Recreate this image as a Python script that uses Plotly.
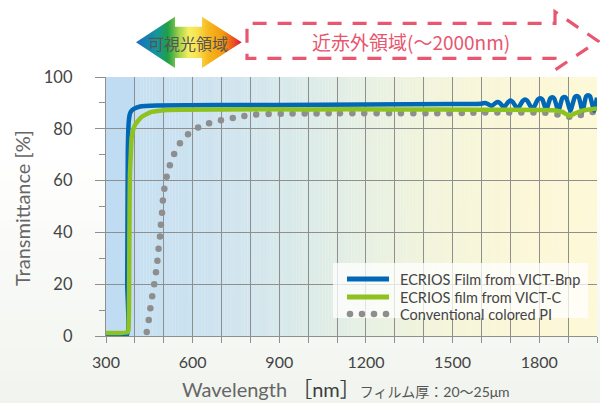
import base64
import plotly.graph_objects as go

# ---------------- data ----------------
series_names = ["ECRIOS Film from VICT-Bnp", "ECRIOS film from VICT-C", "Conventional colored PI"]

wl_bnp = [300, 372, 373.5, 374.5, 375.5, 377, 379, 382, 387, 395, 418, 475, 900, 1200, 1500,
          1600, 1612, 1622, 1635, 1648, 1656, 1664, 1678, 1692, 1700, 1708, 1725,
          1743, 1751, 1759, 1777, 1795, 1803, 1811, 1824, 1838, 1845, 1852, 1866,
          1880, 1887, 1894, 1908, 1923, 1930, 1937, 1950, 1962, 1969, 1976, 1990, 2000]
t_bnp = [0.3, 0.3, 20, 50, 72, 79, 83, 85.5, 86.8, 87.6, 88.6, 89.0, 89.2, 89.4, 89.6,
         89.7, 90.0, 89.6, 88.8, 89.9, 90.3, 89.9, 88.3, 90.3, 90.9, 90.4, 87.8,
         90.8, 91.3, 90.8, 87.5, 91.3, 91.8, 91.3, 87.2, 91.7, 92.2, 91.7, 87.0,
         91.8, 92.3, 91.8, 87.0, 92.2, 92.7, 92.2, 86.8, 92.5, 93.0, 92.5, 87.0, 92.0]

wl_c = [300, 376, 378, 379.5, 380.5, 381.5, 383, 386, 389, 400, 423, 458, 510, 700, 1000,
        1300, 1600, 1850, 1880, 1905, 1925, 1950, 2000]
t_c = [1.2, 1.5, 3.5, 10, 30, 50, 63, 70.5, 76.8, 81.4, 84.6, 86.5, 87.3, 87.5, 87.5,
       87.5, 87.4, 87.2, 86.5, 85.0, 86.0, 87.0, 87.8]

wl_pi = [441, 448, 453.5, 460, 467, 473, 478, 482, 487, 490, 494, 497, 502, 510, 521, 536,
         556, 584, 619, 657, 698, 739, 779, 820, 863, 905, 946, 988, 1029, 1071, 1110,
         1153, 1194, 1237, 1280, 1321, 1364, 1406, 1447, 1489, 1532, 1572, 1613, 1655,
         1696, 1738, 1780, 1821, 1863, 1904, 1944, 1985]
t_pi = [1.5, 6.2, 10.7, 15.3, 20.0, 24.6, 29.1, 33.7, 38.4, 43.0, 47.6, 52.3, 56.9, 61.5,
        65.9, 70.3, 74.4, 77.9, 80.5, 82.1, 83.3, 84.2, 84.9, 85.5, 85.7, 85.8, 85.9, 85.9,
        85.9, 86.0, 86.0, 86.0, 86.0, 86.0, 86.0, 86.0, 86.0, 86.0, 86.0, 86.0, 86.1, 86.2,
        86.3, 86.3, 86.3, 86.3, 86.3, 86.2, 85.5, 84.7, 85.3, 86.5]

x_tick_vals = [300, 600, 900, 1200, 1500, 1800]
y_tick_vals = [0, 20, 40, 60, 80, 100]

# ---------------- styling helpers ----------------
W, H = 600, 403
BLUE = "#0068b7"
GREEN = "#8dc21f"
GREY = "#8e8e8e"
PINK = "#e8566f"
GRID = "#8f8f8f"
LATIN = "Lato, Noto Sans CJK JP, sans-serif"
CJK = "Noto Sans CJK JP, sans-serif"


def px(x):
    return x / W


def py(y):
    return 1 - y / H


def hex2rgb(h):
    h = h.lstrip("#")
    return [int(h[i:i + 2], 16) for i in (0, 2, 4)]


def lerp_color(stops, v):
    for (a, ca), (b, cb) in zip(stops[:-1], stops[1:]):
        if a <= v <= b:
            t = (v - a) / (b - a) if b > a else 0
            c1, c2 = hex2rgb(ca), hex2rgb(cb)
            return "rgb(%d,%d,%d)" % tuple(round(c1[i] + (c2[i] - c1[i]) * t) for i in range(3))
    return stops[-1][1]


fig = go.Figure()

fig.add_trace(go.Scatter(x=wl_pi, y=t_pi, mode="markers", name=series_names[2],
                         marker=dict(color=GREY, size=6.5), hoverinfo="skip"))
fig.add_trace(go.Scatter(x=wl_bnp, y=t_bnp, mode="lines", name=series_names[0],
                         line=dict(color=BLUE, width=4.5, shape="spline", smoothing=0.5)))
fig.add_trace(go.Scatter(x=wl_c, y=t_c, mode="lines", name=series_names[1],
                         line=dict(color=GREEN, width=4.5, shape="spline", smoothing=0.5)))

shapes = []
# page background: white fading to pale grey-green at the bottom
page_stops = [(0, "#ffffff"), (150, "#ffffff"), (403, "#f1f4ee")]
for y0 in range(0, H, 10):
    shapes.append(dict(type="rect", xref="paper", yref="paper", x0=0, x1=1,
                       y0=py(y0 + 10), y1=py(y0), fillcolor=lerp_color(page_stops, y0 + 5),
                       line=dict(width=0), layer="below"))

# plot-area background gradient (blue -> yellow)
bg_stops = [(400, "#c6e0f2"), (600, "#cbe2f0"), (800, "#d3e6ee"), (1000, "#dcebe8"),
            (1200, "#e7f0e2"), (1400, "#f1f4dc"), (1600, "#f8f6d9"), (1800, "#fcf7d7"),
            (2000, "#fdf8d6")]
shapes.append(dict(type="rect", xref="x", yref="y domain", x0=300, x1=400, y0=0, y1=1,
                   fillcolor="#c0dcf2", line=dict(width=0), layer="below"))
for x0 in range(400, 2000, 10):
    shapes.append(dict(type="rect", xref="x", yref="y domain", x0=x0, x1=x0 + 10.5, y0=0, y1=1,
                       fillcolor=lerp_color(bg_stops, x0 + 5), line=dict(width=0), layer="below"))

# pink dashed arrow box (near infrared)
pts = [(555, 11.7), (555, 23.3), (247, 23.3), (247, 58.3), (555, 58.3), (555, 70), (598, 41)]
path = "M " + " L ".join("%.5f,%.5f" % (px(x), py(y)) for x, y in pts) + " Z"
shapes.append(dict(type="path", xref="paper", yref="paper", path=path,
                   line=dict(color=PINK, width=3.2, dash="14px,11px"), layer="above"))

# manual legend (box, symbols)
shapes.append(dict(type="rect", xref="paper", yref="paper", x0=px(333), x1=px(588),
                   y0=py(318), y1=py(263), fillcolor="rgba(255,255,255,0.75)",
                   line=dict(width=0), layer="above"))
legend_rows = [279, 297, 314]
shapes.append(dict(type="line", xref="paper", yref="paper", x0=px(347), x1=px(389),
                   y0=py(legend_rows[0]), y1=py(legend_rows[0]),
                   line=dict(color=BLUE, width=5), layer="above"))
shapes.append(dict(type="line", xref="paper", yref="paper", x0=px(347), x1=px(389),
                   y0=py(legend_rows[1]), y1=py(legend_rows[1]),
                   line=dict(color=GREEN, width=5), layer="above"))
for cx in (350, 362, 374, 386):
    shapes.append(dict(type="circle", xref="paper", yref="paper",
                       x0=px(cx - 3.3), x1=px(cx + 3.3),
                       y0=py(legend_rows[2] + 3.3), y1=py(legend_rows[2] - 3.3),
                       fillcolor=GREY, line=dict(width=0), layer="above"))

# gradient double arrow (visible region) as an SVG image
poly = [(136, 42.3), (175, 16.7), (175, 26.7), (202, 26.7), (202, 16.7), (241.7, 42.3),
        (202, 67.9), (202, 57.9), (175, 57.9), (175, 67.9)]
grad = [(0, "#1a6cc4"), (0.2, "#14969a"), (0.3, "#1f9f45"), (0.41, "#a6d34a"),
        (0.5, "#f7f062"), (0.58, "#f8e050"), (0.68, "#f6b820"), (0.82, "#f39a0f"),
        (0.93, "#ea4a24"), (1, "#e10a2e")]
stops = "".join('<stop offset="%s" stop-color="%s"/>' % (o, c) for o, c in grad)
svg = ('<svg xmlns="http://www.w3.org/2000/svg" width="600" height="403" viewBox="0 0 600 403">'
       '<defs><linearGradient id="g" gradientUnits="userSpaceOnUse" x1="136" y1="0" x2="242" y2="0">'
       + stops + '</linearGradient></defs><polygon points="'
       + " ".join("%s,%s" % p for p in poly) + '" fill="url(#g)"/></svg>')
src = "data:image/svg+xml;base64," + base64.b64encode(svg.encode()).decode()

annotations = [
    dict(text="可視光領域", x=px(188), y=py(43), xref="paper", yref="paper", showarrow=False,
         font=dict(family=CJK, size=16, color="#555555"), xanchor="center", yanchor="middle"),
    dict(text="近赤外領域(～2000nm)", x=px(411), y=py(42), xref="paper", yref="paper",
         showarrow=False, font=dict(family=CJK, size=19, color=PINK),
         xanchor="center", yanchor="middle"),
    dict(text="Transmittance [%]", x=px(22), y=py(208), xref="paper", yref="paper",
         showarrow=False, textangle=-90, font=dict(family=LATIN, size=20, color="#666666"),
         xanchor="center", yanchor="middle"),
    dict(text='Wavelength <span style="color:#3c3c3c">［nm］</span>'
              '<span style="font-size:14px;color:#555555">フィルム厚：20～25μm</span>',
         x=px(346), y=py(389), xref="paper", yref="paper", showarrow=False,
         font=dict(family=LATIN, size=20, color="#666666"), xanchor="center", yanchor="middle"),
]
for name, yrow in zip(series_names, legend_rows):
    annotations.append(dict(text=name, x=px(398), y=py(yrow), xref="paper", yref="paper",
                            showarrow=False, xanchor="left", yanchor="middle",
                            font=dict(family=LATIN, size=14.5, color="#444444")))

fig.update_layout(
    template="none",
    width=W, height=H,
    autosize=False,
    margin=dict(l=0, r=0, t=0, b=0, pad=0, autoexpand=False),
    paper_bgcolor="#ffffff",
    plot_bgcolor="rgba(0,0,0,0)",
    font=dict(family=LATIN, color="#444444"),
    shapes=shapes,
    annotations=annotations,
    images=[dict(source=src, xref="paper", yref="paper", x=0, y=1, sizex=1, sizey=1,
                 xanchor="left", yanchor="top", sizing="stretch", layer="above")],
    showlegend=False,
    xaxis=dict(domain=[px(106), px(597)], range=[300, 2000], tickvals=x_tick_vals,
               automargin=False,
               ticks="outside", ticklen=6, tickwidth=1.4, tickcolor=GRID,
               showgrid=True, gridcolor=GRID, gridwidth=1.4,
               minor=dict(dtick=100, tick0=300, ticks="outside", ticklen=6, tickwidth=1.4,
                          tickcolor=GRID, showgrid=True, gridcolor=GRID, gridwidth=1.4),
               showline=True, linecolor=GRID, linewidth=1.4, zeroline=False,
               tickfont=dict(size=16, color="#444444"), ticklabelstandoff=6),
    yaxis=dict(domain=[py(336), py(77)], range=[0, 100], tickvals=y_tick_vals,
               automargin=False,
               ticks="outside", ticklen=10, tickwidth=1.4, tickcolor=GRID,
               showgrid=True, gridcolor=GRID, gridwidth=1.4,
               minor=dict(dtick=10, ticks="outside", ticklen=6, tickwidth=1.4,
                          tickcolor=GRID, showgrid=False),
               showline=True, linecolor=GRID, linewidth=1.4, zeroline=False,
               tickfont=dict(size=16.5, color="#444444"), ticklabelstandoff=19),
)

post = """
document.documentElement.style.margin = '0';
document.body.style.margin = '0';
document.body.style.padding = '0';
document.body.style.overflow = 'hidden';
"""

fig.write_html("out.html", post_script=post, config={"displayModeBar": False})
